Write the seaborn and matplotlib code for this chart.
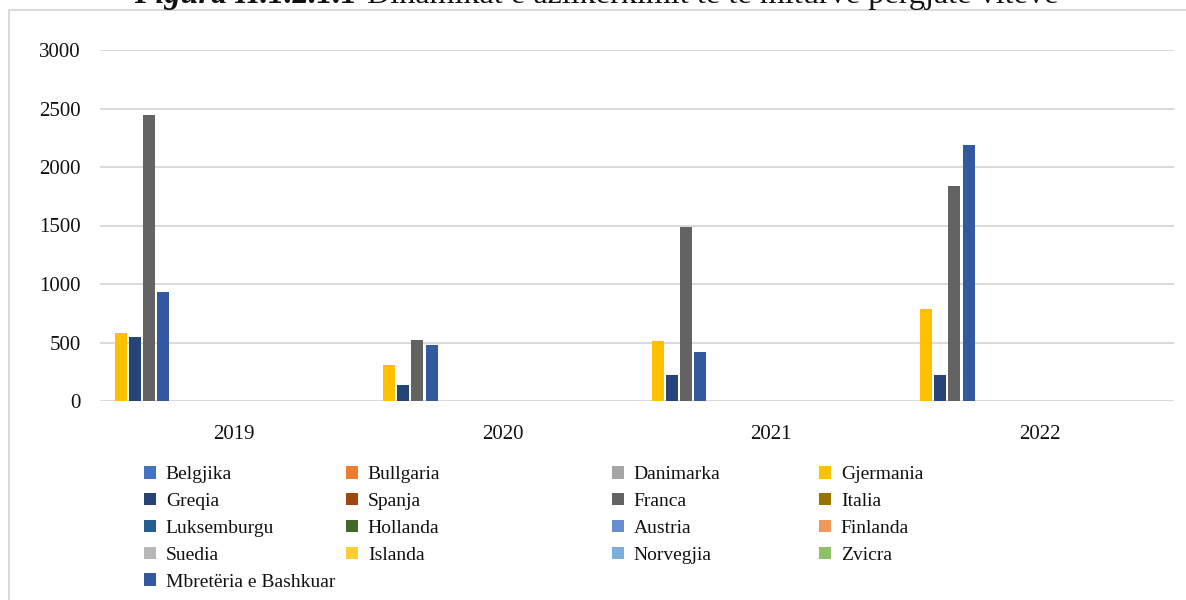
import numpy as np
import pandas as pd
import seaborn as sns
import matplotlib.pyplot as plt
from matplotlib.patches import Patch, Rectangle

# ---------------- data ----------------
years = ["2019", "2020", "2021", "2022"]

countries = ["Belgjika", "Bullgaria", "Danimarka", "Gjermania",
             "Greqia", "Spanja", "Franca", "Italia",
             "Luksemburgu", "Hollanda", "Austria", "Finlanda",
             "Suedia", "Islanda", "Norvegjia", "Zvicra",
             "Mbretëria e Bashkuar"]

colors = ["#4472C4", "#ED7D31", "#A5A5A5", "#FFC000",
          "#264478", "#9E480E", "#636363", "#997300",
          "#255E91", "#43682B", "#698ED0", "#F1975A",
          "#B7B7B7", "#FFCD33", "#7CAFDD", "#8CC168",
          "#335AA1"]

belgjika = [0, 0, 0, 0]
bullgaria = [0, 0, 0, 0]
danimarka = [0, 0, 0, 0]
gjermania = [580, 305, 510, 785]
greqia = [545, 140, 220, 220]
spanja = [0, 0, 0, 0]
franca = [2445, 520, 1485, 1840]
italia = [0, 0, 0, 0]
luksemburgu = [0, 0, 0, 0]
hollanda = [0, 0, 0, 0]
austria = [0, 0, 0, 0]
finlanda = [0, 0, 0, 0]
suedia = [0, 0, 0, 0]
islanda = [0, 0, 0, 0]
norvegjia = [0, 0, 0, 0]
zvicra = [0, 0, 0, 0]
mbreteria = [930, 475, 415, 2190]

series = [belgjika, bullgaria, danimarka, gjermania, greqia, spanja, franca,
          italia, luksemburgu, hollanda, austria, finlanda, suedia, islanda,
          norvegjia, zvicra, mbreteria]

# order in which the bars sit inside each year group
draw_order = ["Gjermania", "Greqia", "Franca", "Mbretëria e Bashkuar",
              "Belgjika", "Bullgaria", "Danimarka", "Spanja", "Italia",
              "Luksemburgu", "Hollanda", "Austria", "Finlanda", "Suedia",
              "Islanda", "Norvegjia", "Zvicra"]

title_bold = "Figura II.1.2.1.1"
title_rest = "Dinamikat e azilkërkimit të të miturve përgjatë viteve"

rows = []
for c, vals in zip(countries, series):
    for y, v in zip(years, vals):
        rows.append({"Viti": y, "Shteti": c, "Numri": v})
df = pd.DataFrame(rows)
palette = dict(zip(countries, colors))

# ---------------- style ----------------
sns.set_theme(style="white")
plt.rcParams["font.family"] = ["Liberation Serif", "DejaVu Serif"]

W, H = 1186, 600
fig = plt.figure(figsize=(W / 100, H / 100), dpi=100)
ax = fig.add_axes([100 / W, 1 - 401 / H, (1174 - 100) / W, (401 - 50) / H])

sns.barplot(data=df, x="Viti", y="Numri", hue="Shteti", hue_order=draw_order,
            palette=palette, saturation=1, width=0.9, gap=0.16, linewidth=0,
            errorbar=None, legend=False, ax=ax)

ax.set_ylim(0, 3000)
ax.set_xlim(-0.5, 3.5)
ax.set_yticks(np.arange(0, 3001, 500))
ax.yaxis.grid(True, color="#D9D9D9", linewidth=1.4)
ax.set_axisbelow(True)
for s in ax.spines.values():
    s.set_visible(False)
ax.set_xlabel("")
ax.set_ylabel("")
ax.tick_params(axis="y", length=0, pad=14, labelsize=15, labelcolor="#111111")
ax.tick_params(axis="x", length=0, pad=17, labelsize=15, labelcolor="#111111")

# chart border
fig.add_artist(Rectangle((9 / W, -0.05), 1.2, 1.05 - 10 / H,
                         transform=fig.transFigure, fill=False,
                         edgecolor="#D9D9D9", linewidth=1.4))

# legend in 4 columns
legend_cols = [
    ["Belgjika", "Greqia", "Luksemburgu", "Suedia", "Mbretëria e Bashkuar"],
    ["Bullgaria", "Spanja", "Hollanda", "Islanda"],
    ["Danimarka", "Franca", "Austria", "Norvegjia"],
    ["Gjermania", "Italia", "Finlanda", "Zvicra"],
]
col_x = [144, 346, 612, 819]
for cx, names in zip(col_x, legend_cols):
    handles = [Patch(facecolor=palette[n], edgecolor="none") for n in names]
    fig.legend(handles, names, loc="upper left",
               bbox_to_anchor=(cx / W, 1 - 466 / H), frameon=False,
               borderpad=0, borderaxespad=0, fontsize=14,
               handlelength=0.62, handleheight=0.62, handletextpad=0.5,
               labelspacing=0.5, labelcolor="#111111")

# title (cut by the top edge, as in the source)
t1 = fig.text(357 / W, 1 - 3 / H, title_bold, ha="right", va="baseline",
              fontsize=20, fontweight="bold", fontstyle="italic", color="#111111")
t2 = fig.text(367 / W, 1 - 3 / H, title_rest, ha="left", va="baseline",
              fontsize=20, color="#111111")
fig.canvas.draw()
r = fig.canvas.get_renderer()
w2 = t2.get_window_extent(r).width
t2.set_fontsize(20 * 693 / w2)
t1.set_fontsize(20 * 693 / w2)

fig.savefig("out.png", dpi=100)
